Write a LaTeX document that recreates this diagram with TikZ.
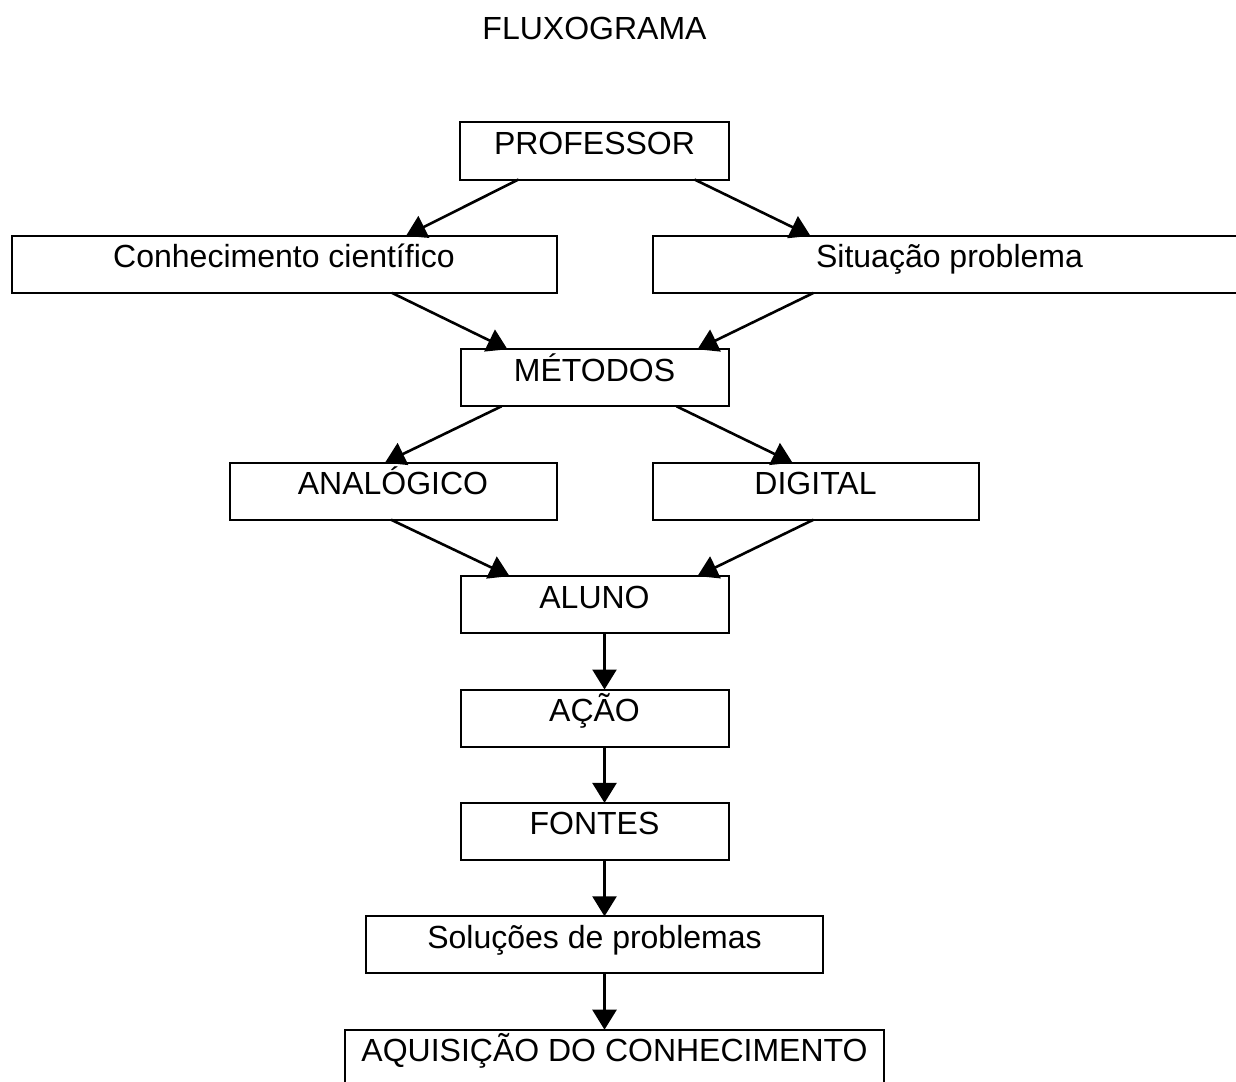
\documentclass[tikz,border=0pt]{standalone}
\usepackage{fontspec}
\setmainfont{Liberation Sans}
\usetikzlibrary{arrows.meta, positioning}

\begin{document}
\begin{tikzpicture}[
		x=0.5pt, y=-0.5pt,
		node distance=28.2pt,
		box/.style={draw, line width=1pt, outer sep=0pt, font=\fontsize{16}{19}\selectfont, inner xsep=0pt, inner ysep=5pt, text height=11pt, text depth=7.5pt},
		arr/.style={-{Triangle[length=10pt, width=12pt]}, line width=1.3pt}
	]
		\clip (0,0) rectangle (1236,1081);

		\node[font=\fontsize{16}{19}\selectfont, anchor=base] (title) at (594.5,40) {FLUXOGRAMA};

		\node[box, minimum width=134.5pt] (prof) at (594.5,151) {PROFESSOR};
		\node[box, minimum width=272.5pt, below left=28.2pt and 19pt of prof.south] (conh) {Conhecimento científico};
		\node[box, minimum width=297pt, below right=28.2pt and 29pt of prof.south] (sit) {Situação problema};
		\node[box, minimum width=134pt, below=84.9pt of prof] (met) {MÉTODOS};
		\node[box, minimum width=163.5pt, below left=28.2pt and 19pt of met.south] (ana) {ANALÓGICO};
		\node[box, minimum width=163pt, below right=28.2pt and 29pt of met.south] (dig) {DIGITAL};
		\node[box, minimum width=134pt, below=84.9pt of met] (aluno) {ALUNO};
		\node[box, minimum width=134pt, below=of aluno] (acao) {AÇÃO};
		\node[box, minimum width=134pt, below=of acao] (fontes) {FONTES};
		\node[box, minimum width=228.5pt, below=of fontes] (sol) {Soluções de problemas};
		\node[box, minimum width=269.5pt, below=of sol, xshift=10pt] (aq) {AQUISIÇÃO DO CONHECIMENTO};

		% ligacoes
		\draw[arr] ([xshift=-38pt]prof.south) -- ([xshift=61pt]conh.north);
		\draw[arr] ([xshift=50pt]prof.south) -- ([xshift=-69.5pt]sit.north);
		\draw[arr] ([xshift=54pt]conh.south) -- ([xshift=-43.5pt]met.north);
		\draw[arr] ([xshift=-68pt]sit.south) -- ([xshift=51.5pt]met.north);
		\draw[arr] ([xshift=-46.5pt]met.south) -- ([xshift=-4pt]ana.north);
		\draw[arr] ([xshift=41pt]met.south) -- ([xshift=-11.5pt]dig.north);
		\draw[arr] ([xshift=-1pt]ana.south) -- ([xshift=-42.5pt]aluno.north);
		\draw[arr] ([xshift=-1pt]dig.south) -- ([xshift=51.5pt]aluno.north);
		\draw[arr] ([xshift=5pt]aluno.south) -- ([xshift=5pt]acao.north);
		\draw[arr] ([xshift=5pt]acao.south) -- ([xshift=5pt]fontes.north);
		\draw[arr] ([xshift=5pt]fontes.south) -- ([xshift=5pt]sol.north);
		\draw[arr] ([xshift=5pt]sol.south) -- ([xshift=-5pt]aq.north);
	\end{tikzpicture}
\end{document}
